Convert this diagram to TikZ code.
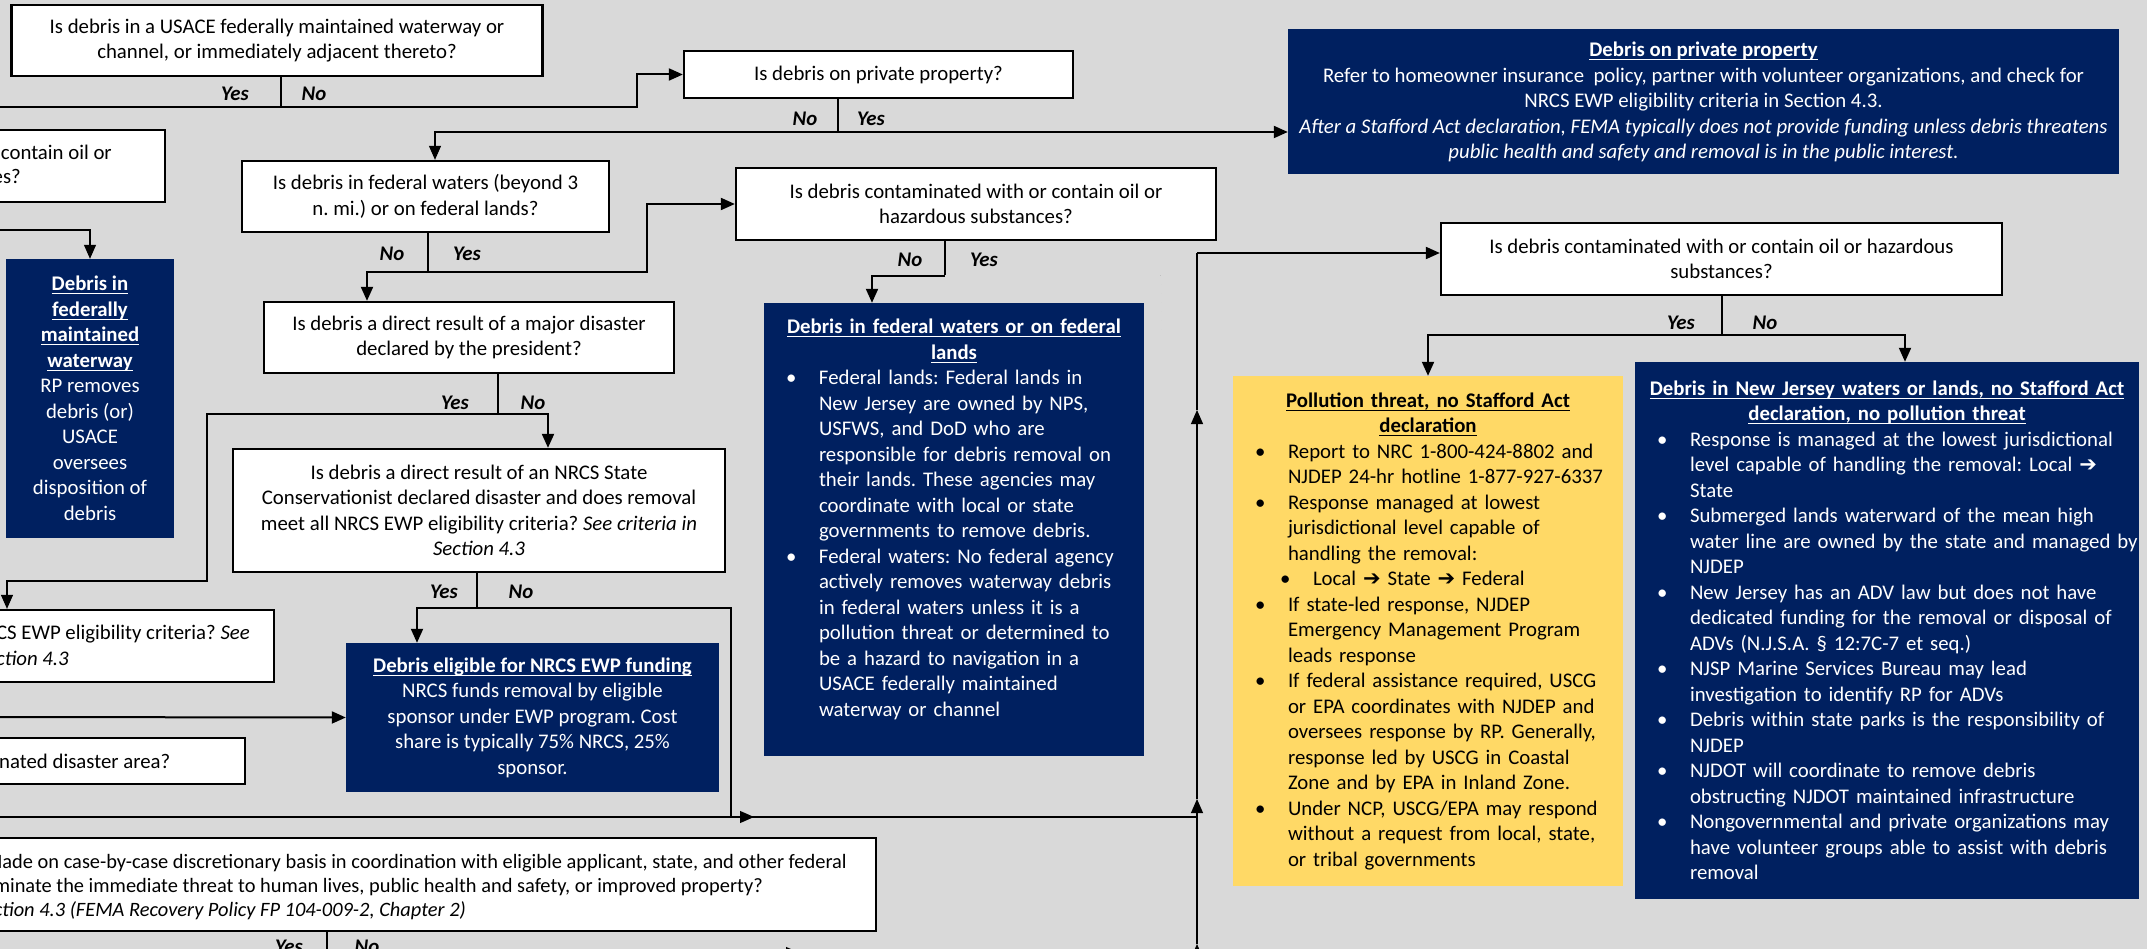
\documentclass[tikz,border=0pt]{standalone}
\usepackage{amsmath}
\usepackage{fontspec}
\setmainfont{Carlito}
\newfontfamily\symf{DejaVu Sans}
\usetikzlibrary{arrows.meta}
\definecolor{bggray}{HTML}{D9D9D9}
\definecolor{navyblue}{HTML}{002060}
\definecolor{goldbox}{HTML}{FFD966}
\newcommand{\bodyfont}{\fontsize{20.8pt}{25.5pt}\selectfont\frenchspacing}
\newcommand{\ttl}[1]{\underline{\smash[b]{\textbf{#1}}}}
\newcommand{\tarrow}{{\symf\fontsize{21pt}{21pt}\selectfont ➔}}
\newcommand{\bpt}[1]{\par\hangindent=55pt\hangafter=1\rightskip=0pt plus 1fil minus 30pt
  \noindent\hspace*{22pt}\makebox[33pt][l]{\textbullet}#1\par}
\newcommand{\spt}[1]{\par\hangindent=80pt\hangafter=1\rightskip=0pt plus 1fil minus 30pt
  \noindent\hspace*{47pt}\makebox[33pt][l]{\textbullet}#1\par}
\tikzset{
  qbox/.style={draw=black,line width=2.3pt,fill=white,inner sep=0pt,align=center},
  navybox/.style={fill=navyblue,text=white,inner sep=0pt,align=center},
  yelbox/.style={fill=goldbox,text=black,inner sep=0pt,align=left},
  frag/.style={anchor=base east,inner sep=0pt},
  fragw/.style={anchor=base west,inner sep=0pt},
  lbl/.style={font=\bodyfont\bfseries\itshape,inner sep=0pt},
  link/.style={line width=2pt},
  conn/.style={line width=2pt,-{Triangle[length=14pt,width=12pt]}},
  thinlink/.style={line width=1.1pt},
  thinconn/.style={line width=1.1pt,-{Triangle[length=14pt,width=12pt]}},
  polllink/.style={draw=black!60,line width=0.6pt,double=bggray,double distance=1.3pt,
    dash pattern=on 6pt off 3pt},
}
\begin{document}
\begin{tikzpicture}[x=1pt,y=-1pt,every node/.style={font=\bodyfont}]
  \useasboundingbox (0,0) rectangle (2147,949);
  \clip (0,0) rectangle (2147,949);
  \fill[bggray] (0,0) rectangle (2147,949);

  % questions
  \node[qbox,minimum width=531pt,minimum height=71pt] (q1) at (277,40.5)
    {Is debris in a USACE federally maintained waterway or\\channel, or immediately adjacent thereto?};
  \node[qbox,minimum width=389pt,minimum height=47pt] (q2) at (878.5,74.5) {Is debris on private property?};
  \node[qbox,minimum width=185pt,minimum height=72pt] (qa) at (72.5,166) {};
  \node[frag] (qat1) at (112,160) {contain oil or};
  \node[frag] (qat2) at (21,184) {es?};
  \node[qbox,minimum width=367pt,minimum height=71pt] (q3) at (425.5,196.5)
    {Is debris in federal waters (beyond 3\\n. mi.) or on federal lands?};
  \node[qbox,minimum width=480pt,minimum height=72pt] (q5) at (976,204)
    {Is debris contaminated with or contain oil or\\hazardous substances?};
  \node[qbox,minimum width=410pt,minimum height=71pt] (q4) at (469,337.5)
    {Is debris a direct result of a major disaster\\declared by the president?};
  \node[qbox,minimum width=561pt,minimum height=72pt] (q6) at (1721.5,259)
    {Is debris contaminated with or contain oil or hazardous\\substances?};
  \node[qbox,minimum width=492pt,minimum height=123pt] (q7) at (479,510.5)
    {Is debris a direct result of an NRCS State\\Conservationist declared disaster and does removal\\
     meet all NRCS EWP eligibility criteria? \textit{See criteria in}\\\textit{Section 4.3}};
  \node[qbox,minimum width=294pt,minimum height=72pt] (q8) at (127,646) {};
  \node[frag] (q8t1) at (250,639) {CS EWP eligibility criteria? \textit{See}};
  \node[frag] (q8t2) at (69,665) {\textit{ction 4.3}};
  \node[qbox,minimum width=265pt,minimum height=46pt] (q9) at (112.5,761) {};
  \node[fragw] (q9t) at (-1,768) {nated disaster area?};
  \node[qbox,minimum width=896pt,minimum height=93pt] (q10) at (428,884.5) {};
  \begin{scope}[every node/.style={font=\fontsize{20.4pt}{24pt}\selectfont}]
    \node[frag] (q10t1) at (847,868)
      {Made on case-by-case discretionary basis in coordination with eligible applicant, state, and other federal};
    \node[frag] (q10t2) at (763,892)
      {minate the immediate threat to human lives, public health and safety, or improved property?};
    \node[frag] (q10t3) at (466,916) {\textit{ction 4.3 (FEMA Recovery Policy FP 104-009-2, Chapter 2)}};
  \end{scope}

  % outcomes
  \node[navybox,minimum width=831pt,minimum height=145pt] (nb2) at (1703.5,102)
    {\ttl{Debris on private property}\\
     Refer to homeowner insurance\ \ policy, partner with volunteer organizations, and check for\\
     NRCS EWP eligibility criteria in Section 4.3.\\
     \textit{After a Stafford Act declaration, FEMA typically does not provide funding unless debris threatens}\\
     \textit{public health and safety and removal is in the public interest.}};
  \node[navybox,minimum width=168pt,minimum height=279pt] (nb1) at (90,398.5)
    {\ttl{Debris in}\\\ttl{federally}\\\ttl{maintained}\\\ttl{waterway}\\RP removes\\debris (or)\\
     USACE\\oversees\\disposition of\\debris};
  \node[navybox,minimum width=380pt,minimum height=453pt] (nb3) at (954,529.5) {};
  \node[navybox,fill=none,text width=380pt,align=left,anchor=north] (nb3t) at ([yshift=-16pt]nb3.north)
    {{\centering\ttl{Debris in federal waters or on federal}\\\ttl{lands}\par}
     \bpt{Federal lands: Federal lands in\newline New Jersey are owned by NPS,\newline
       USFWS, and DoD who are\newline responsible for debris removal on\newline
       their lands. These agencies may\newline coordinate with local or state\newline
       governments to remove debris.}
     \bpt{Federal waters: No federal agency\newline actively removes waterway debris\newline
       in federal waters unless it is a\newline pollution threat or determined to\newline
       be a hazard to navigation in a\newline USACE federally maintained\newline
       waterway or channel}};
  \node[navybox,minimum width=373pt,minimum height=149pt] (nb4) at (532.5,717.5)
    {\ttl{Debris eligible for NRCS EWP funding}\\NRCS funds removal by eligible\\
     sponsor under EWP program. Cost\\share is typically 75\% NRCS, 25\%\\sponsor.};
  \node[yelbox,text width=390pt,minimum height=510pt] (yel) at (1428,631)
    {{\centering\ttl{Pollution threat, no Stafford Act}\\\ttl{declaration}\par}
     \bpt{Report to NRC 1-800-424-8802 and\newline NJDEP 24-hr hotline 1-877-927-6337}
     \bpt{Response managed at lowest\newline jurisdictional level capable of\newline handling the removal:}
     \spt{Local \tarrow\ State \tarrow\ Federal}
     \bpt{If state-led response, NJDEP\newline Emergency Management Program\newline leads response}
     \bpt{If federal assistance required, USCG\newline or EPA coordinates with NJDEP and\newline
       oversees response by RP. Generally,\newline response led by USCG in Coastal\newline
       Zone and by EPA in Inland Zone.}
     \bpt{Under NCP, USCG/EPA may respond\newline without a request from local, state,\newline
       or tribal governments}};
  \node[navybox,text width=504pt,align=left,minimum height=537pt] (nb5) at (1887,630.5)
    {{\centering\ttl{Debris in New Jersey waters or lands, no Stafford Act}\\
      \ttl{declaration, no pollution threat}\par}
     \bpt{Response is managed at the lowest jurisdictional\newline
       level capable of handling the removal: Local \tarrow\newline State}
     \bpt{Submerged lands waterward of the mean high\newline
       water line are owned by the state and managed by\newline NJDEP}
     \bpt{New Jersey has an ADV law but does not have\newline
       dedicated funding for the removal or disposal of\newline ADVs (N.J.S.A. \S{} 12:7C-7 et seq.)}
     \bpt{NJSP Marine Services Bureau may lead\newline investigation to identify RP for ADVs}
     \bpt{Debris within state parks is the responsibility of\newline NJDEP}
     \bpt{NJDOT will coordinate to remove debris\newline obstructing NJDOT maintained infrastructure}
     \bpt{Nongovernmental and private organizations may\newline
       have volunteer groups able to assist with debris\newline removal}};

  % branch points and loose ends
  \coordinate (j1) at (281,107);   \coordinate (j2) at (838,132);
  \coordinate (j3) at (428,272);   \coordinate (j4) at (498,414);
  \coordinate (j5) at (945,276);   \coordinate (j6) at (1722,335);
  \coordinate (j7) at (477,608);   \coordinate (j10) at (327,953);
  \coordinate (m6) at (1427,335);  \coordinate (m7) at (754,817);
  \coordinate (k6) at (1197,253);  \coordinate (k6a) at (1197,410);
  \coordinate (k6b) at (1197,799); \coordinate (k6c) at (1197,944);
  \coordinate (k6d) at (1197,975);
  \coordinate (in1) at (-10,107);  \coordinate (in2) at (-10,230);
  \coordinate (in3) at (-10,717);  \coordinate (in4) at (-10,817);
  \coordinate (out10) at (800,953);

  % connectors
  \draw[link] (q1.south -| j1) -- (j1);
  \draw[link] (j1) -- (in1);
  \draw[conn] (j1) -- (637,107) |- (q2.west);
  \draw[link] (q2.south -| j2) -- (j2);
  \draw[conn] (j2) -- (nb2.west |- j2);
  \draw[thinconn] (j2) -| ([xshift=9.5pt]q3.north);
  \draw[thinconn] (in2) -| (nb1.north);
  \draw[link] (q3.south -| j3) -- (j3);
  \draw[conn] (j3) -| ([xshift=-102pt]q4.north);
  \draw[conn] (j3) -- (647,272) |- (q5.west);
  \draw[link] (q4.south -| j4) -- (j4);
  \draw[conn] (j4) -| ([xshift=69pt]q7.north);
  \draw[thinconn] (j4) -- (207,414) -- (207,581) -| (q8.north -| 7,0);
  \draw[link] (q5.south -| j5) -- (j5);
  \draw[conn] (j5) -| ([xshift=-82pt]nb3.north);
  \draw[polllink] (j5) -- (1161,276) |- (m6);
  \draw[link] (q6.south -| j6) -- (j6);
  \draw[conn] (j6) -| (yel.north);
  \draw[conn] (j6) -| ([xshift=18pt]nb5.north);
  \draw[link] (q7.south -| j7) -- (j7);
  \draw[conn] (j7) -| ([xshift=-115.5pt]nb4.north);
  \draw[thinconn] (j7) -| (731,817) -- (m7);
  \draw[conn] (in3) -- (nb4.west);
  \draw[thinconn] (in4) -| (k6b);
  \draw[thinconn] (k6b) -- (k6a);
  \draw[thinlink] (k6a) -- (k6);
  \draw[conn] (k6) -- ([yshift=6pt]q6.west);
  \draw[thinconn] (k6d) -- (k6c);
  \draw[thinlink] (k6c) -- (1197,817);
  \draw[link] (q10.south -| j10) -- (j10);
  \draw[thinconn] (j10) -- (out10);

  % branch labels
  \foreach \nm/\x/\y/\t in {y1/235/94/Yes, n1/314/94/No, n2/805/119/No, y2/871/119/Yes,
      n3/392/254/No, y3/467/254/Yes, y4/455/403/Yes, n4/533/403/No,
      n5/910/260/No, y5/984/260/Yes, y6/1681/323/Yes, n6/1765/323/No,
      y7/444/592/Yes, n7/521/592/No, y10/289/947/Yes, n10/367/947/No}
    \node[lbl] (\nm) at (\x,\y) {\t};
\end{tikzpicture}
\end{document}
